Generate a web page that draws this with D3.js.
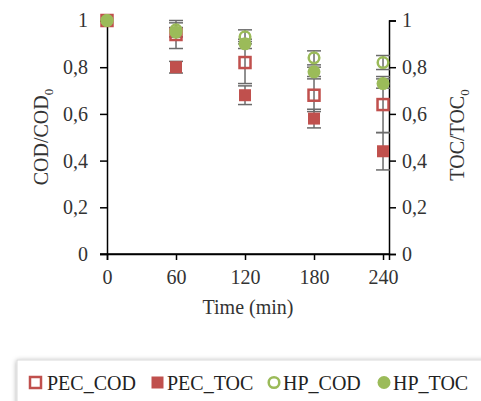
<!DOCTYPE html>
<html><head><meta charset="utf-8">
<script src="https://cdn.jsdelivr.net/npm/d3@7"></script>
<style>body{margin:0;background:#fff;} svg{display:block;}</style>
</head><body>
<script>
const times = [0, 60, 120, 180, 240];
const xTicks = [0, 60, 120, 180, 240];
const yTicks = [0, 0.2, 0.4, 0.6, 0.8, 1];
const yTickLabels = ["0", "0,2", "0,4", "0,6", "0,8", "1"];
const pecCOD = [1, 0.94, 0.82, 0.68, 0.64];
const pecCODErr = [0, 0.06, 0.09, 0.07, 0.12];
const pecTOC = [1, 0.80, 0.68, 0.58, 0.44];
const pecTOCErr = [0, 0.025, 0.04, 0.04, 0.08];
const hpCOD = [1, 0.96, 0.93, 0.84, 0.82];
const hpCODErr = [0, 0.03, 0.03, 0.03, 0.03];
const hpTOC = [1, 0.95, 0.90, 0.78, 0.73];
const hpTOCErr = [0, 0.02, 0.02, 0.02, 0.02];
const seriesNames = ["PEC_COD", "PEC_TOC", "HP_COD", "HP_TOC"];

const FONT = '"Liberation Serif", "DejaVu Serif", "Times New Roman", serif';
const RED = "#C0504D", GREEN = "#9BBB59";
const series = [
  {name: seriesNames[0], v: pecCOD, e: pecCODErr, shape: "square", fill: false, color: RED},
  {name: seriesNames[1], v: pecTOC, e: pecTOCErr, shape: "square", fill: true, color: RED},
  {name: seriesNames[2], v: hpCOD, e: hpCODErr, shape: "circle", fill: false, color: GREEN},
  {name: seriesNames[3], v: hpTOC, e: hpTOCErr, shape: "circle", fill: true, color: GREEN}
];

const W = 481, H = 401;
const svg = d3.select("body").append("svg").attr("width", W).attr("height", H)
  .attr("font-family", FONT);
const x = d3.scaleLinear().domain([0, 245.2]).range([107, 389]);
const y = d3.scaleLinear().domain([0, 1]).range([254, 20.5]);

const left = svg.append("g").attr("transform", "translate(107,0)")
  .call(d3.axisLeft(y).tickValues(yTicks).tickFormat((d, i) => yTickLabels[i]).tickSizeOuter(0).tickSize(7).tickPadding(12));
const right = svg.append("g").attr("transform", "translate(389,0)")
  .call(d3.axisRight(y).tickValues(yTicks).tickFormat((d, i) => yTickLabels[i]).tickSizeOuter(0).tickSize(7).tickPadding(6));
const bottom = svg.append("g").attr("transform", "translate(0,254)")
  .call(d3.axisBottom(x).tickValues(xTicks).tickSizeOuter(0).tickSize(6).tickPadding(10));
[left, right, bottom].forEach(g => {
  g.attr("font-family", FONT).attr("font-size", 20);
  g.select(".domain").attr("stroke", "#000").attr("stroke-width", 1.5);
  g.selectAll(".tick line").attr("stroke", "#000").attr("stroke-width", 1.5);
  g.selectAll("text").attr("fill", "#333").style("font-family", FONT).style("font-size", "20px");
});
svg.append("line").attr("x1", 100).attr("x2", 389).attr("y1", 254).attr("y2", 254).attr("stroke", "#000").attr("stroke-width", 1.5);

svg.append("text").attr("transform", "translate(48,137) rotate(-90)").attr("text-anchor", "middle")
  .style("font-family", FONT).style("font-size", "20px").attr("fill", "#333")
  .html('COD/COD<tspan dy="5" font-size="13">0</tspan>');
svg.append("text").attr("transform", "translate(464,135) rotate(-90)").attr("text-anchor", "middle")
  .style("font-family", FONT).style("font-size", "20px").attr("fill", "#333")
  .html('TOC/TOC<tspan dy="5" font-size="13">0</tspan>');
svg.append("text").attr("x", 248).attr("y", 314).attr("text-anchor", "middle")
  .style("font-family", FONT).style("font-size", "20px").attr("fill", "#333").text("Time (min)");

const eb = svg.append("g");
series.forEach(s => {
  times.forEach((t, i) => {
    if (!s.e[i]) return;
    const cx = x(t), y1 = y(s.v[i] - s.e[i]), y2 = y(s.v[i] + s.e[i]);
    eb.append("line").attr("x1", cx).attr("x2", cx).attr("y1", y1).attr("y2", y2).attr("stroke", "#6b6b6b").attr("stroke-width", 1.5);
    [y1, y2].forEach(yy => eb.append("line").attr("x1", cx - 7).attr("x2", cx + 7).attr("y1", yy).attr("y2", yy).attr("stroke", "#6b6b6b").attr("stroke-width", 1.5));
  });
});

function drawMarker(g, shape, filled, color, cx, cy) {
  if (shape === "square") {
    if (filled) g.append("rect").attr("x", cx - 6).attr("y", cy - 6).attr("width", 12).attr("height", 12).attr("fill", color);
    else g.append("rect").attr("x", cx - 5.5).attr("y", cy - 5.5).attr("width", 11).attr("height", 11).attr("fill", "none").attr("stroke", color).attr("stroke-width", 2.5);
  } else {
    if (filled) g.append("circle").attr("cx", cx).attr("cy", cy).attr("r", 6.5).attr("fill", color);
    else g.append("circle").attr("cx", cx).attr("cy", cy).attr("r", 5.3).attr("fill", "none").attr("stroke", color).attr("stroke-width", 2.5);
  }
}
const mk = svg.append("g");
series.forEach(s => times.forEach((t, i) => drawMarker(mk, s.shape, s.fill, s.color, x(t), y(s.v[i]))));

const defs = svg.append("defs");
const f = defs.append("filter").attr("id", "sh").attr("x", "-10%").attr("y", "-30%").attr("width", "130%").attr("height", "180%");
f.append("feDropShadow").attr("dx", 0).attr("dy", 1).attr("stdDeviation", 2.5).attr("flood-color", "#000").attr("flood-opacity", 0.35);
svg.append("rect").attr("x", 17).attr("y", 360).attr("width", 480).attr("height", 60).attr("fill", "#fff").attr("stroke", "#d9d9d9").attr("filter", "url(#sh)");
const lgX = [35.5, 157.5, 274, 384];
const lgT = [47, 167, 283, 393];
const lg = svg.append("g");
series.forEach((s, i) => {
  drawMarker(lg, s.shape, s.fill, s.color, lgX[i], 382.5);
  lg.append("text").attr("x", lgT[i]).attr("y", 390).style("font-family", FONT).style("font-size", "20px").attr("fill", "#222").text(s.name);
});
</script>
</body></html>
